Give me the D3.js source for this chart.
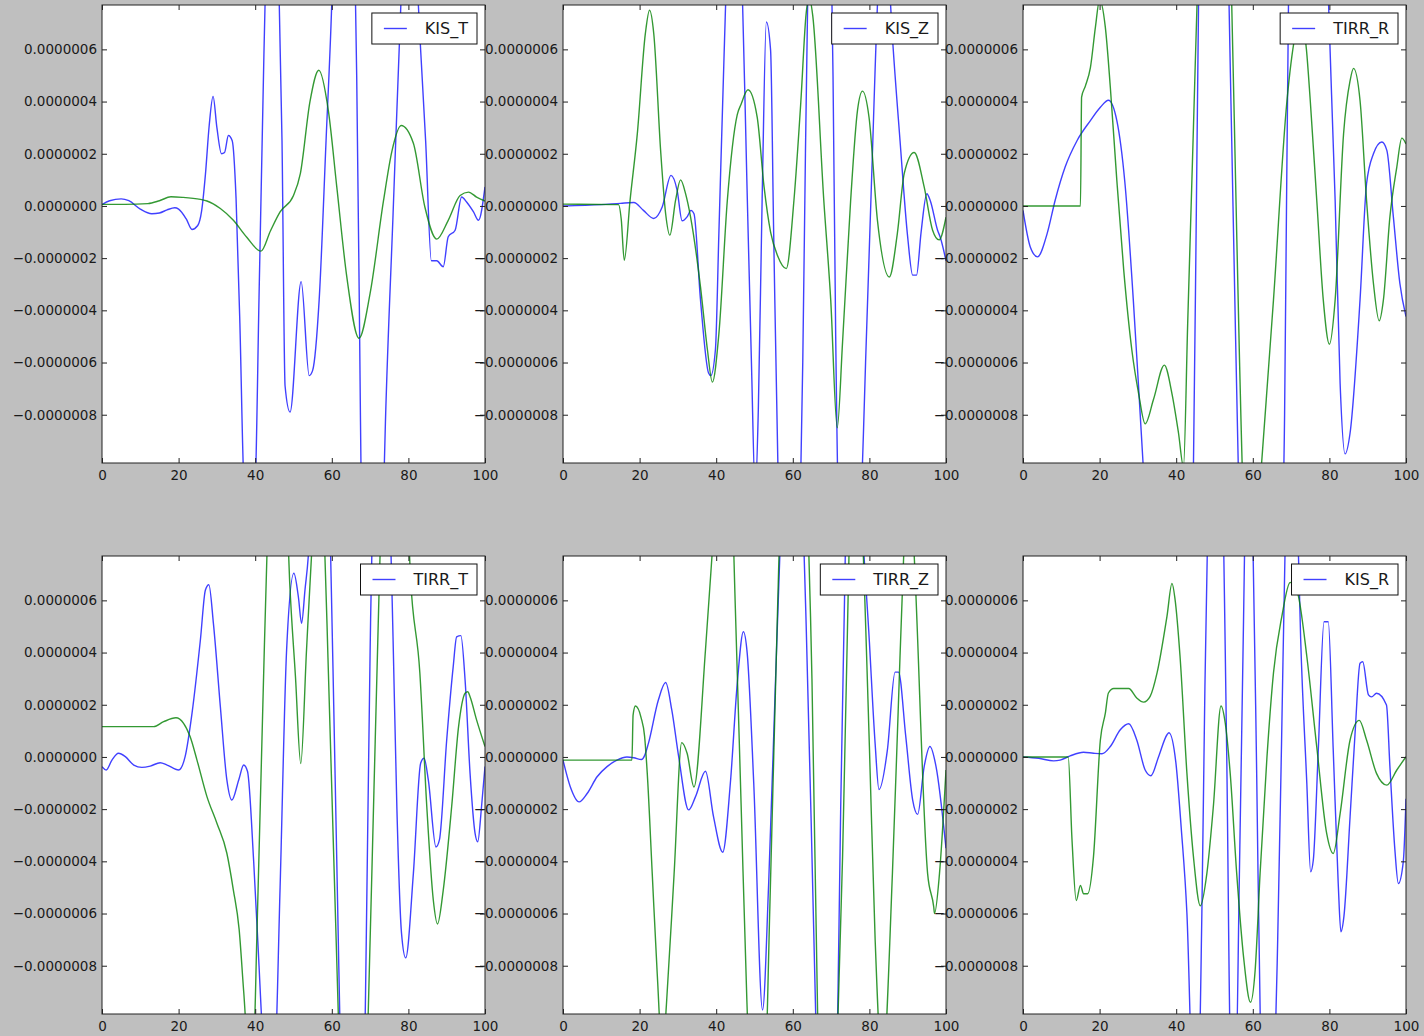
<!DOCTYPE html>
<html>
<head>
<meta charset="utf-8">
<script src="https://cdn.jsdelivr.net/npm/d3@7"></script>
<style>
  body { margin: 0; background: #bfbfbf; }
  svg { display: block; }
  .tick text { font-family: "DejaVu Sans", sans-serif; font-size: 13.5px; fill: #1a1a1a; }
  .legend text { font-family: "DejaVu Sans", sans-serif; font-size: 16px; fill: #1a1a1a; }
</style>
</head>
<body>
<script>
// values are in units of 1e-7 as [x, value]
const UNIT = 1e-7;

const panelNames = ["KIS_T", "KIS_Z", "TIRR_R", "TIRR_T", "TIRR_Z", "KIS_R"];
const xTicks = [0, 20, 40, 60, 80, 100];
const yTicks = [-8e-7, -6e-7, -4e-7, -2e-7, 0, 2e-7, 4e-7, 6e-7];
const xDomain = [0, 100];
const yDomain = [-9.85e-7, 7.7e-7];

const kisT_blue = [[0,0.05],[2,0.2],[5,0.27],[7,0.2],[10,-0.12],[13,-0.3],[15,-0.27],[17,-0.15],[19,-0.07],[20,-0.12],[22,-0.5],[23.5,-0.9],[25,-0.75],[26,-0.2],[27,1.2],[28,3.1],[29,4.2],[30,3.0],[31.2,2.0],[32,2.05],[33,2.7],[34,2.5],[35,0.3],[36,-4.5],[37,-10.5],[38.5,-13],[40,-10.8],[41,-3.5],[42,3.8],[43,10.5],[44.5,14],[46,9.8],[47,2.5],[47.8,-6.9],[49.1,-7.9],[52,-2.9],[54.1,-6.5],[55,-6.3],[56.7,-3.6],[58.5,2.5],[60,7.8],[61.5,16],[63.5,20],[65.5,14],[66.5,5],[67.2,-4],[68,-15],[70,-24],[72,-20],[73,-14],[74,-8.3],[76,-0.3],[78,7.6],[79.5,12.5],[81,12],[82,9.5],[83,6.5],[84.5,2.5],[86,-2.1],[87.4,-2.1],[89.1,-2.33],[90.4,-1.18],[92.2,-0.93],[93.9,0.34],[95.2,0.15],[97,-0.23],[98.3,-0.55],[100,0.73]];
const kisT_green = [[0,0.06],[6,0.06],[12,0.09],[15,0.2],[18,0.35],[21,0.33],[25.7,0.25],[27.4,0.19],[30.9,-0.1],[34.3,-0.55],[37.8,-1.2],[41.5,-1.73],[44,-0.95],[46.5,-0.23],[50,0.4],[51.8,1.25],[54.3,4.0],[56.6,5.2],[59.1,3.65],[61.3,0.73],[63.9,-2.7],[67.1,-5.07],[70,-3.35],[73.5,0.2],[75.7,2.1],[78.1,3.08],[81.3,2.4],[84.3,-0.04],[87.4,-1.27],[90.4,-0.55],[93.5,0.4],[95.7,0.53],[97.8,0.34],[100,0.19]];

const kisZ_blue = [[0,0.0],[10,0.05],[15,0.1],[18.5,0.13],[21,-0.17],[23.7,-0.48],[25.9,-0.04],[28.2,1.17],[29.8,0.6],[31.1,-0.57],[32.4,-0.42],[33.4,-0.17],[34.2,-0.3],[35.9,-3.6],[38,-6.4],[38.6,-6.5],[39.8,-5.5],[40.7,-1.05],[42,5.5],[43.5,12],[45,14],[46.5,10],[48,1],[49.2,-6],[50.2,-11],[51,-7.8],[52,0.3],[53.1,7.05],[54.2,5.97],[55,-1],[56.5,-13],[59,-22],[61.5,-15],[62.6,-6],[63.3,2],[64.5,14],[67,25],[69.5,15],[70.5,5],[71.2,-5],[72.5,-15],[75,-18],[77.5,-13],[79,-6],[80.5,0.7],[82.5,9],[83.7,11],[84.8,9.5],[86,6.5],[88,2.5],[90,-1.2],[91.3,-2.65],[92.3,-2.65],[93.5,-1],[95,0.47],[95.9,0.2],[97.8,-0.93],[98.5,-1.2],[100,-2.1]];
const kisZ_green = [[0,0.07],[14.5,0.05],[15.2,-0.5],[16,-2.08],[17.5,0.2],[19.4,2.76],[21.5,6.6],[22.6,7.5],[23.7,6.6],[25.5,2.1],[26.8,-0.3],[27.9,-1.12],[29.4,0.22],[30.7,1.0],[32,0.47],[33.3,-0.42],[35.9,-3.1],[37.7,-5.5],[39,-6.75],[40.7,-4.9],[42.9,0.2],[45.5,3.5],[46.5,3.9],[48.3,4.45],[50.7,3.4],[52.5,0.73],[54.2,-1.0],[56,-1.9],[58.3,-2.4],[60.3,0.22],[62.1,4.0],[63.5,7.4],[64.3,8.0],[65.2,7.3],[68.1,0.2],[69.9,-3.6],[71.6,-8.5],[73,-5.2],[75.1,0.2],[76.9,3.67],[78.2,4.4],[79.9,3.4],[82.1,-0.55],[85.2,-2.72],[87.3,-1.05],[89.1,1.25],[91.7,2.05],[94.3,0.73],[96.5,-0.93],[98.2,-1.3],[100,-0.43]];

const tirrR_blue = [[0,-0.17],[1.9,-1.57],[3.8,-1.95],[6.3,-1.06],[8.4,0.22],[11,1.49],[14.1,2.5],[17.6,3.27],[20.2,3.78],[22.3,4.05],[24.5,3.27],[26.6,0.9],[28.8,-3.6],[30,-6.5],[32,-11.5],[35,-20],[39,-28],[42,-25],[43.5,-18],[44.5,-10],[45.2,-1],[46,10],[48,28],[50,35],[52,25],[53.5,10],[54.5,2.5],[55.5,-5],[56.5,-12],[59,-25],[62,-30],[65,-25],[67.5,-14],[68.3,-8],[68.8,0],[69.4,9],[71,22],[75,30],[78,18],[79.5,9],[81.5,0.22],[82.8,-6.8],[84.1,-9.5],[85.4,-8.7],[88,-3.6],[89.7,0.85],[91.5,2.0],[93.7,2.45],[95,2.13],[96.7,-0.42],[98.4,-2.97],[100,-4.24]];
const tirrR_green = [[0,0],[15,0],[15.3,4.17],[16.3,4.6],[17.6,5.3],[18.9,6.84],[20,7.9],[21.5,6.84],[22.8,4.55],[24.5,0.98],[26.3,-2.46],[28.4,-5.5],[30.2,-7.2],[31.9,-8.35],[34.1,-7.4],[36.9,-6.1],[38.9,-7.2],[40.6,-8.7],[41.9,-10],[43,-4.5],[44.5,3],[46,10.5],[50,22],[53,14],[54.5,7.7],[55.5,1],[56.5,-5.7],[58,-13],[59.7,-14.5],[61,-12.5],[62.3,-9.85],[65.4,-3.6],[68.9,4.0],[71,6.5],[72.5,7.3],[74,6.0],[75,4.04],[76.7,0.22],[78.4,-3.6],[80,-5.3],[81.5,-3.6],[83.7,2.76],[85.4,4.8],[86.3,5.27],[88,4.04],[89.7,0.22],[91.5,-2.97],[93,-4.4],[94.1,-3.6],[95.8,-0.42],[97.6,1.49],[98.9,2.6],[100,2.38]];

const tirrT_blue = [[0,-0.37],[1.1,-0.5],[2.6,-0.12],[4.3,0.14],[6.1,0.01],[8.3,-0.31],[10.4,-0.4],[12.6,-0.35],[15.2,-0.22],[17,-0.31],[20,-0.5],[21.7,0.01],[23.5,1.67],[25.7,4.5],[27,6.4],[27.9,6.6],[29.1,5.1],[30.9,1.93],[32.6,-0.88],[33.9,-1.65],[35.7,-0.88],[37,-0.31],[38,-0.56],[39.6,-4.0],[41,-8],[42,-11],[43.5,-14],[45,-12.5],[46.5,-5],[48.2,4.1],[50.1,7.04],[51.3,6.1],[52.1,5.12],[53,6.4],[54,8],[55.5,14],[57,18],[58.5,14],[59.7,7.7],[60.5,2],[61.5,-5.5],[62.5,-13],[65,-25],[67.5,-17],[68.3,-14],[69,-7],[70,4],[71,12],[73,16],[75,10.5],[76,4.5],[77,-2],[78.2,-6.75],[79.3,-7.7],[81.3,-4.46],[83.2,-0.24],[84.1,-0.05],[85.2,-0.88],[87.2,-3.45],[88.1,-3.18],[90,0.65],[91.7,3.46],[92.6,4.6],[93.7,4.65],[94.8,2.95],[96.1,-0.63],[97.4,-2.92],[98.1,-3.25],[99.1,-1.9],[100,-0.37]];
const tirrT_green = [[0,1.16],[13.5,1.16],[16.1,1.35],[19.3,1.5],[21.3,1.29],[23,0.78],[24.8,-0.12],[27.4,-1.52],[30,-2.54],[32.6,-3.69],[34.3,-5.1],[35.8,-6.6],[37,-9.0],[38.6,-12],[39.5,-11.5],[40.5,-6.5],[42,2],[43.5,10],[46,16],[47.5,12.5],[49,6.7],[50.5,3.1],[51.9,-0.25],[53.4,4.1],[54.7,7.7],[56.3,11],[57.5,9.5],[58.2,7.7],[59,3.8],[60.5,-3.8],[61.7,-9.85],[63.5,-19],[65.5,-23],[67.5,-19],[68.5,-14.5],[69.5,-9.85],[71,-1.3],[72,4.4],[73.5,12.5],[76.5,20],[79,12.5],[80.5,7.0],[83,3.2],[84.8,-1.9],[86.5,-5.48],[87.6,-6.4],[89.1,-5.1],[91.3,-1.9],[93.1,1.16],[94.8,2.44],[95.5,2.5],[96.1,2.31],[97.8,1.42],[100,0.4]];

const tirrZ_blue = [[0,-0.12],[1.9,-1.14],[4.2,-1.72],[6.3,-1.4],[8.9,-0.76],[11.5,-0.37],[14.1,-0.12],[16.7,0.0],[18.5,-0.03],[20.5,-0.1],[21.3,0.05],[22.3,0.52],[24.9,2.18],[26.8,2.85],[28.4,1.8],[30.2,0.01],[32.8,-2.03],[34.6,-1.52],[37.2,-0.55],[39.3,-2.29],[41.7,-3.65],[43.7,-1.0],[45.5,2.82],[47.1,4.8],[48.1,3.97],[49.8,-1.0],[52.1,-9.7],[53.7,-4.84],[55.5,3],[56.8,8.5],[58.5,15],[60.5,15],[62.5,10],[63.5,5],[64.8,-2.5],[66,-10],[68,-20],[70,-18],[71.5,-12],[72.5,-2],[73.5,6],[74.5,14],[76,18],[77.5,11],[80,4.4],[81.5,0.5],[82.5,-1.25],[84.7,0.27],[86.7,3.25],[87.6,3.25],[89.5,0.78],[91.3,-1.65],[92.6,-2.2],[94.3,-0.37],[95.8,0.4],[97.4,-0.37],[100,-3.5]];
const tirrZ_green = [[0,-0.12],[18,-0.12],[18.3,1.6],[18.9,1.95],[20.4,1.5],[21.3,0.8],[22,-0.63],[23.3,-4.47],[24.6,-8.3],[26,-11.5],[27,-9.5],[29,-4.5],[31,0.55],[32.4,0.14],[34.2,-1.15],[37.2,4.1],[38.9,7.7],[41.7,14],[44,10.5],[45,5.7],[46.5,-1.8],[48,-9.3],[50.5,-17],[52.5,-14],[54,-5.8],[55.5,2.7],[57,11],[60,20],[63,13],[65,3],[66.5,-10],[69,-20],[71,-14],[73,-3.8],[74,3],[75.5,12],[76.5,13],[77.8,10],[80,0.4],[81.5,-7],[83.4,-12],[86,-4.5],[87.5,1.7],[89,7.9],[90.5,11],[91.7,7.7],[95.2,-4.47],[96.8,-5.75],[97,-6.0],[98.3,-4.47],[100,-0.5]];

const kisR_blue = [[0,0],[4.1,-0.05],[8,-0.15],[9.7,-0.12],[12.3,0.04],[15.8,0.18],[18.4,0.14],[20.6,0.12],[22.8,0.4],[25.4,1.04],[27.6,1.27],[29.7,0.65],[31.9,-0.5],[33.4,-0.72],[35.4,0.01],[37.6,0.85],[38.1,0.93],[39.9,-0.2],[41.3,-2.7],[42.8,-6],[44.5,-13],[45.8,-12.5],[46.7,-6],[47.5,2.7],[48.5,11],[50,16],[51.5,14],[53.2,0],[54.2,-11.5],[55.5,-12.5],[56.5,-4.5],[57.5,4.5],[58.3,11],[59.2,12],[60,8.5],[61,-0.5],[62,-10.5],[64,-16],[65.5,-13],[66.5,-7],[67.5,0.5],[68.5,8.5],[70,13],[71.5,10],[72.5,4.5],[74.1,-1.0],[75.1,-4.4],[75.8,-3.95],[77.1,0.27],[78.6,5.18],[79.7,5.18],[81,0.27],[82.3,-4.84],[83,-6.7],[83.8,-6.1],[85.4,-2.29],[86.7,0.91],[88,3.59],[88.7,3.65],[90.2,2.38],[91,2.3],[92.3,2.44],[94.9,1.99],[95.8,-0.37],[97.1,-3.56],[98,-4.85],[99.3,-4.0],[100,-1.6]];
const kisR_green = [[0,0],[11.8,0],[12.8,-3.19],[13.9,-5.5],[15,-4.92],[15.8,-5.24],[16.9,-5.24],[18.4,-3.83],[20.2,0.65],[21.5,1.68],[22.3,2.45],[23.7,2.62],[27.6,2.62],[29.7,2.26],[31.5,2.1],[33.2,2.32],[35,3.22],[37.6,5.4],[38.9,6.65],[39.7,6.04],[41,3.86],[42.8,-0.63],[44.5,-3.82],[46.3,-5.7],[48,-4.47],[49.7,-1.9],[51.7,1.95],[52.8,1.3],[54.1,-0.63],[55.8,-4.47],[57.6,-7.68],[59.4,-9.4],[60.6,-8.2],[61.9,-4.47],[63.7,0],[65.4,3.22],[67.6,5.4],[69.7,6.68],[70.5,6.7],[71.9,6.17],[74.1,3.86],[76.7,0.38],[79.3,-2.94],[81,-3.7],[82.8,-2.17],[85.4,0.65],[87.8,1.4],[89.7,0.65],[92.3,-0.63],[95,-1.08],[97.6,-0.5],[100,0.01]];

const blueSeries = [kisT_blue, kisZ_blue, tirrR_blue, tirrT_blue, tirrZ_blue, kisR_blue];
const greenSeries = [kisT_green, kisZ_green, tirrR_green, tirrT_green, tirrZ_green, kisR_green];

let svgWidth = 1424,
    svgHeight = 1036,
    panelLefts = [102, 563, 1023],
    panelTops = [5, 556],
    panelW = 383,
    panelH = 458,
    blue = "#0000ff",
    green = "#008000";

let svg = d3.select("body").append("svg")
    .attr("width", svgWidth)
    .attr("height", svgHeight);

svg.append("rect")
    .attr("width", svgWidth)
    .attr("height", svgHeight)
    .attr("fill", "#bfbfbf");

panelNames.forEach((name, i) => drawPanel(name, i));

function drawPanel(name, i) {
    let left = panelLefts[i % 3],
        top = panelTops[Math.floor(i / 3)];
    let g = svg.append("g").attr("transform", "translate(" + left + "," + top + ")");

    let x = d3.scaleLinear().domain(xDomain).range([0, panelW]);
    let y = d3.scaleLinear().domain(yDomain).range([panelH, 0]);

    g.append("rect")
        .attr("width", panelW)
        .attr("height", panelH)
        .attr("fill", "#fff");

    g.append("clipPath").attr("id", "clip" + i)
        .append("rect")
        .attr("width", panelW)
        .attr("height", panelH);

    let line = d3.line()
        .x(d => x(d[0]))
        .y(d => y(d[1] * UNIT))
        .curve(d3.curveMonotoneX);

    let plot = g.append("g").attr("clip-path", "url(#clip" + i + ")");
    plot.append("path")
        .attr("d", line(blueSeries[i]))
        .attr("fill", "none")
        .attr("stroke", blue)
        .attr("stroke-opacity", 0.75)
        .attr("stroke-width", 1.4);
    plot.append("path")
        .attr("d", line(greenSeries[i]))
        .attr("fill", "none")
        .attr("stroke", green)
        .attr("stroke-opacity", 0.8)
        .attr("stroke-width", 1.4);

    // ticks point inwards on all four sides
    g.append("g")
        .call(d3.axisLeft(y).tickValues(yTicks).tickFormat(d3.format(".7f")).tickSize(-5).tickSizeOuter(0).tickPadding(5))
        .call(a => a.select(".domain").remove());
    g.append("g")
        .attr("transform", "translate(" + panelW + ",0)")
        .call(d3.axisRight(y).tickValues(yTicks).tickFormat("").tickSize(-5).tickSizeOuter(0))
        .call(a => a.select(".domain").remove());
    g.append("g")
        .attr("transform", "translate(0," + panelH + ")")
        .call(d3.axisBottom(x).tickValues(xTicks).tickSize(-5).tickSizeOuter(0).tickPadding(7))
        .call(a => a.select(".domain").remove());
    g.append("g")
        .call(d3.axisTop(x).tickValues(xTicks).tickFormat("").tickSize(-5).tickSizeOuter(0))
        .call(a => a.select(".domain").remove());

    g.selectAll(".tick line").attr("stroke", "#222");

    g.append("rect")
        .attr("width", panelW)
        .attr("height", panelH)
        .attr("fill", "none")
        .attr("stroke", "#222")
        .attr("stroke-width", 1);

    drawLegend(g, name);
}

function drawLegend(g, name) {
    let leg = g.append("g").attr("class", "legend");
    let txt = leg.append("text")
        .attr("x", 53)
        .attr("y", 15.5)
        .attr("dy", "0.35em")
        .text(name);
    let tw = txt.node().getComputedTextLength();
    let bw = 53 + tw + 9,
        bh = 31;
    leg.insert("rect", ":first-child")
        .attr("width", bw)
        .attr("height", bh)
        .attr("fill", "#fff")
        .attr("stroke", "#111")
        .attr("stroke-width", 1);
    leg.append("line")
        .attr("x1", 12)
        .attr("x2", 35)
        .attr("y1", 15.5)
        .attr("y2", 15.5)
        .attr("stroke", blue)
        .attr("stroke-opacity", 0.75)
        .attr("stroke-width", 1.4);
    leg.attr("transform", "translate(" + (panelW - 8 - bw) + ",8)");
}
</script>
</body>
</html>
